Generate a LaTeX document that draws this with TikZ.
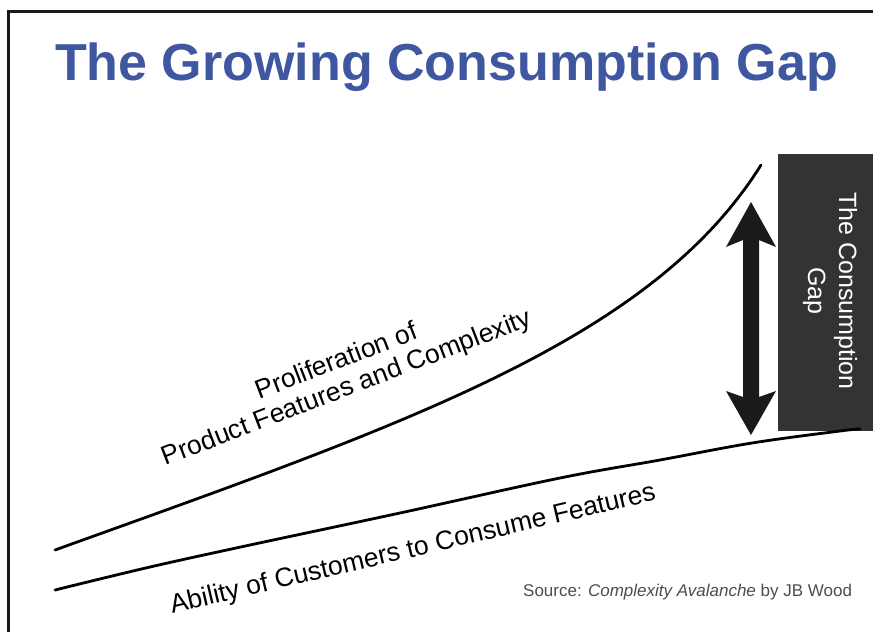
\documentclass[tikz,border=0pt]{standalone}
\usepackage{fontspec}
\setmainfont{Liberation Sans}
\definecolor{titleblue}{HTML}{3F56A0}
\definecolor{boxgray}{HTML}{333333}
\definecolor{arrowblack}{HTML}{1A1A1A}
\definecolor{srcgray}{HTML}{4D4D4D}
\begin{document}
\begin{tikzpicture}[x=1pt,y=-1pt,
  curve/.style={line width=2.8pt, line cap=round, black},
  lbl/.style={font=\fontsize{26.5}{30}\selectfont, text=black, inner sep=0pt},
  frame/.style={line width=3pt, black!90}]
\useasboundingbox (0,0) rectangle (873,632);
\fill[white] (0,0) rectangle (873,632);
\draw[frame] (8,632) -- (8,11.5) -- (873,11.5);
\node[font=\fontsize{52}{60}\selectfont\bfseries, text=titleblue, anchor=base, inner sep=0pt] (title) at (446.5,80) {The Growing Consumption Gap};
% gap box
\fill[boxgray] (778,154) rectangle (873,431);
\node[rotate=-90, font=\fontsize{25}{31}\selectfont, text=white, align=center, inner sep=0pt] (gaplabel) at (830,291) {The Consumption\\Gap};
% curves
\draw[curve] (55,550) .. controls (405,424) and (651,341) .. (761,165);
\draw[curve] plot[smooth, tension=0.6] coordinates {(55,590) (150,567) (250,545) (400,513) (560,478) (660,460) (752,443) (840,431) (860,429)};
% arrow
\coordinate (atop) at (751,202);
\coordinate (abot) at (751,435);
\fill[arrowblack] (atop) -- (776,247) -- (759,240) -- (759,397) -- (776,391) -- (abot) -- (726,391) -- (743,397) -- (743,240) -- (726,247) -- cycle;
% labels
\node[lbl, rotate=21] (prolif1) at (336,360) {Proliferation of};
\node[lbl, rotate=21] (prolif2) at (347,389) {Product Features and Complexity};
\node[lbl, rotate=13.2] (ability) at (413,550) {Ability of Customers to Consume Features};
\node[font=\fontsize{17}{20}\selectfont, text=srcgray, anchor=base west, inner sep=0pt] (source) at (523,596) {Source: \textit{Complexity Avalanche} by JB Wood};
\end{tikzpicture}
\end{document}
